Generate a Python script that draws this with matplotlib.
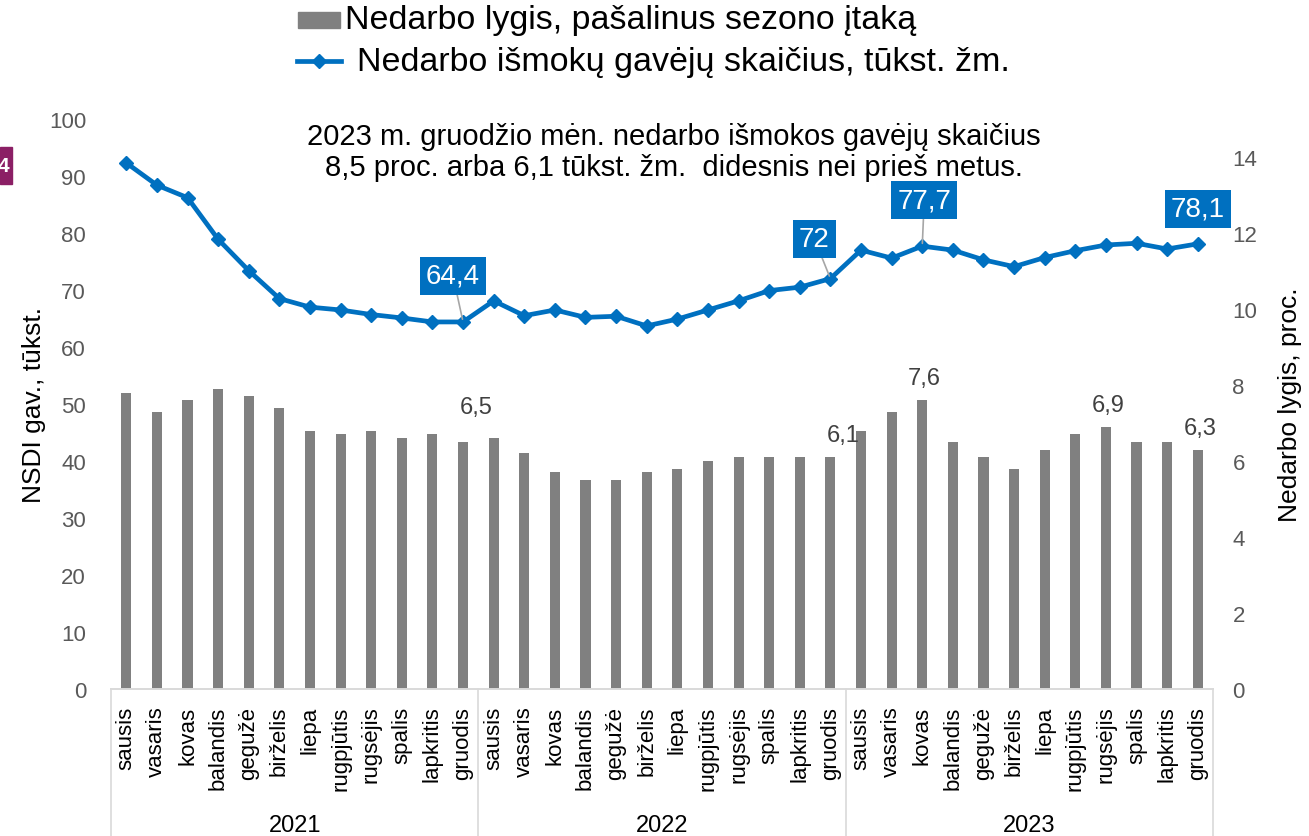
import matplotlib
matplotlib.use("Agg")
import matplotlib.pyplot as plt
from matplotlib.patches import Rectangle
from matplotlib.lines import Line2D
import matplotlib.transforms as mtransforms

plt.rcParams['font.family'] = ['Liberation Sans', 'DejaVu Sans']

# data
months = ['sausis', 'vasaris', 'kovas', 'balandis', 'gegužė', 'birželis',
          'liepa', 'rugpjūtis', 'rugsėjis', 'spalis', 'lapkritis', 'gruodis']
years = ['2021', '2022', '2023']

# Nedarbo lygis, pašalinus sezono įtaką (proc.)
rate = [7.8, 7.3, 7.6, 7.9, 7.7, 7.4, 6.8, 6.7, 6.8, 6.6, 6.7, 6.5,
        6.6, 6.2, 5.7, 5.5, 5.5, 5.7, 5.8, 6.0, 6.1, 6.1, 6.1, 6.1,
        6.8, 7.3, 7.6, 6.5, 6.1, 5.8, 6.3, 6.7, 6.9, 6.5, 6.5, 6.3]

# Nedarbo išmokų gavėjų skaičius, tūkst. žm.
recipients = [92.3, 88.4, 86.2, 78.9, 73.4, 68.5, 67.0, 66.5, 65.7, 65.1, 64.4, 64.4,
              68.1, 65.5, 66.5, 65.2, 65.4, 63.7, 64.9, 66.5, 68.1, 69.9, 70.5, 72.0,
              77.0, 75.6, 77.7, 77.0, 75.3, 74.1, 75.7, 76.9, 77.9, 78.2, 77.2, 78.1]

bar_label_idx = [11, 23, 26, 32, 35]
line_label_idx = [11, 23, 26, 35]

blue = '#0070C0'
bar_col = '#808080'
tick_col = '#595959'

fig = plt.figure(figsize=(13.09, 8.37), dpi=100)
ax = fig.add_axes([0.0848, 0.1756, 0.8419, 0.681])
ax2 = ax.twinx()
ax.set_zorder(ax2.get_zorder() + 1)
ax.patch.set_visible(False)

x = list(range(len(rate)))
ax2.bar(x, rate, width=0.33, color=bar_col)
ax.plot(x, recipients, color=blue, lw=3.4, marker='D', ms=7.5, zorder=3)

ax.set_xlim(-0.5, len(x) - 0.5)
ax.set_ylim(0, 100)
ax2.set_ylim(0, 15)
ax.set_yticks(range(0, 101, 10))
ax2.set_yticks(range(0, 15, 2))

for a in (ax, ax2):
    for s in ('top', 'left', 'right'):
        a.spines[s].set_visible(False)
    a.spines['bottom'].set_color('#D9D9D9')
    a.spines['bottom'].set_linewidth(1.2)
    a.tick_params(axis='y', length=0, labelsize=16, labelcolor=tick_col)

ax.tick_params(axis='y', pad=18)
ax2.tick_params(axis='y', pad=14)

ax.set_xticks(x)
ax.set_xticklabels(months * len(years), rotation=90, fontsize=16, va='top')
ax.tick_params(axis='x', length=0, pad=12)

ax.set_ylabel('NSDI gav., tūkst.', fontsize=19, labelpad=2)
ax2.set_ylabel('Nedarbo lygis, proc.', fontsize=19, labelpad=15)

# multi-level category axis
trans = mtransforms.blended_transform_factory(ax.transData, ax.transAxes)
for k in range(len(years) + 1):
    xb = k * 12 - 0.5
    ax.plot([xb, xb], [0, -0.27], transform=trans, color='#D9D9D9', lw=1.2, clip_on=False)
for k, yr in enumerate(years):
    ax.text(k * 12 + 5.5, -0.238, yr, transform=trans, ha='center', va='center',
            fontsize=17)

# bar labels
for i in bar_label_idx:
    dx = 13 if i in (11, 23) else 2
    dy = 24 if i == 11 else 11
    ax2.annotate(f'{rate[i]:.1f}'.replace('.', ','), (i, rate[i]),
                 xytext=(dx, dy), textcoords='offset pixels', ha='center', va='bottom',
                 fontsize=17, color='#404040')

# line labels
offsets = {11: (-10, 46), 23: (-16, 40), 26: (2, 46), 35: (0, 35)}
for i in line_label_idx:
    v = recipients[i]
    txt = f'{v:g}'.replace('.', ',')
    ox, oy = offsets[i]
    arrow = dict(arrowstyle='-', color='#A6A6A6', lw=1.2, shrinkA=0, shrinkB=2) if i != 35 else None
    ax.annotate(txt, (i, v), xytext=(ox, oy), textcoords='offset pixels',
                ha='center', va='center', fontsize=20, color='white', zorder=5,
                bbox=dict(boxstyle='square,pad=0.22', fc=blue, ec='none'),
                arrowprops=arrow)

# note
ax.text(0.511, 0.995, '2023 m. gruodžio mėn. nedarbo išmokos gavėjų skaičius\n'
        '8,5 proc. arba 6,1 tūkst. žm.  didesnis nei prieš metus.',
        transform=ax.transAxes, ha='center', va='top', fontsize=21, linespacing=1.15)

# legend
W, H = 1309, 837
fig.add_artist(Rectangle((298 / W, 1 - 29 / H), 42 / W, 16 / H, transform=fig.transFigure,
                         color=bar_col))
fig.text(345 / W, 1 - 20 / H, 'Nedarbo lygis, pašalinus sezono įtaką', fontsize=24.5,
         va='center', ha='left')
fig.add_artist(Line2D([297 / W, 341 / W], [1 - 62 / H, 1 - 62 / H], transform=fig.transFigure,
                      color=blue, lw=3.4))
fig.add_artist(Line2D([319 / W], [1 - 62 / H], transform=fig.transFigure,
                      color=blue, marker='D', ms=7.5))
fig.text(357 / W, 1 - 62 / H, 'Nedarbo išmokų gavėjų skaičius, tūkst. žm.', fontsize=24.5,
         va='center', ha='left')

# page marker on the left edge
fig.add_artist(Rectangle((0, 1 - 185 / H), 12 / W, 37 / H, transform=fig.transFigure,
                         color='#8B1F65'))
fig.text(-2 / W, 1 - 167 / H, '4', color='white', fontsize=15, fontweight='bold',
         ha='left', va='center')

fig.savefig('out.png', dpi=100)
